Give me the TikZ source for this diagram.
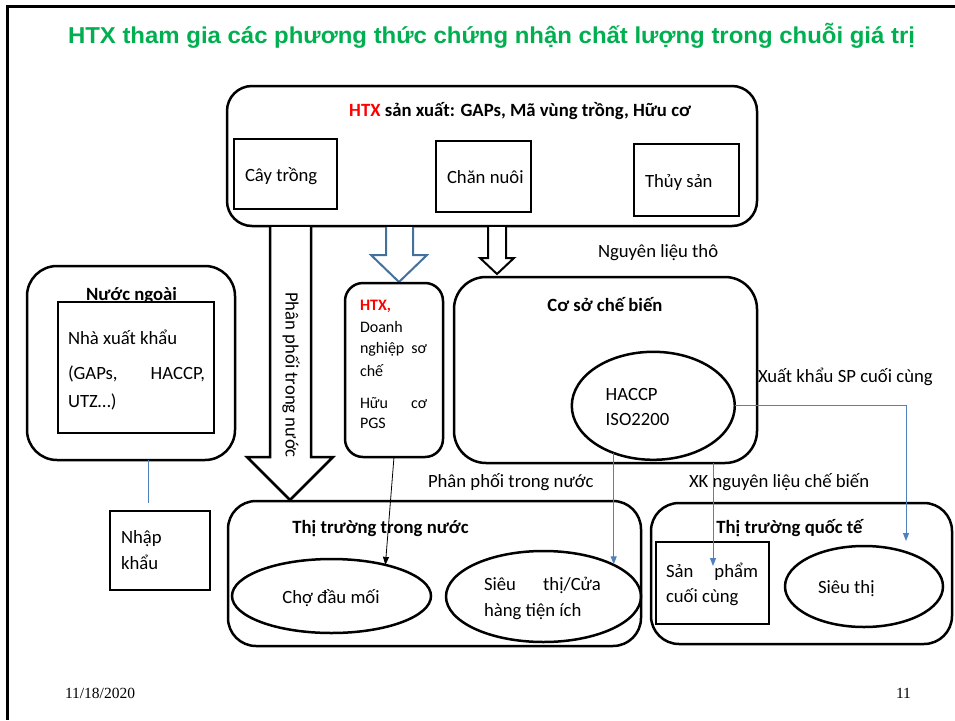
\documentclass[tikz,border=0pt]{standalone}
\usepackage{fontspec}
\usepackage{graphicx}
\setmainfont{Carlito}
\newfontfamily\titlefont{Liberation Sans}
\newfontfamily\footfont{Liberation Serif}
\usetikzlibrary{shapes.geometric,arrows.meta}
\definecolor{titlegreen}{HTML}{00B050}
\definecolor{htxred}{HTML}{FF0000}
\definecolor{linkblue}{HTML}{4F81BD}
\definecolor{arrowblue}{HTML}{41719C}
\newcommand{\bodysize}{\fontsize{18.7}{22}\selectfont}
\newcommand{\smallbodysize}{\fontsize{16}{20}\selectfont}
\begin{document}
\begin{tikzpicture}[x=1pt,y=-1pt,
  every node/.style={inner sep=0pt,outer sep=0pt},
  rbox/.style={draw,line width=2.5pt,rounded corners=#1},
  rbox/.default=25pt,
  sbox/.style={draw,line width=2.5pt,fill=white},
  oval/.style={draw,ellipse,line width=2.5pt},
  lbl/.style={font=\bodysize,anchor=base west},
  slbl/.style={font=\smallbodysize,anchor=base west},
  hdr/.style={font=\bodysize\bfseries,anchor=base},
  link/.style={draw=linkblue,line width=1pt,-{Triangle[length=8pt,width=6pt]}},
  blockarrow/.style={line width=2.5pt,fill=white,line join=miter}
]
\useasboundingbox (0,0) rectangle (955,720);

% slide frame and heading
\draw[line width=3pt] (955,6.5) -- (7,6.5) -- (7,720);
\node[anchor=base,text=titlegreen,font=\titlefont\bfseries\fontsize{23}{28}\selectfont] (title) at (491.5,43.5)
  {\resizebox{847pt}{\height}{HTX tham gia các phương thức chứng nhận chất lượng trong chuỗi giá trị}};

% producers
\node[rbox,minimum width=530pt,minimum height=140pt] (htxsx) at (492,156) {};
\node[hdr] (htxsxt) at (520,116) {\textcolor{htxred}{HTX} sản xuất: GAPs, Mã vùng trồng, Hữu cơ};
\node[sbox,minimum width=103pt,minimum height=70pt] (caytrong) at (285.5,174) {};
\node[lbl] (caytrongt) at (245,181) {Cây trồng};
\node[sbox,minimum width=95pt,minimum height=71pt] (channuoi) at (483.5,176.5) {};
\node[lbl] (channuoit) at (447,183) {Chăn nuôi};
\node[sbox,minimum width=105pt,minimum height=72pt] (thuysan) at (686.5,180) {};
\node[lbl] (thuysant) at (645,187) {Thủy sản};

% block arrows out of the producers box
\draw[blockarrow] (270,227) -- (270,457) -- (247,457) -- (290,500) -- (333,457) -- (311,457) -- (311,227);
\node[lbl,anchor=center,rotate=-90] (ppdoc) at (291,375) {Phân phối trong nước};
\draw[blockarrow,draw=arrowblue,line width=2pt] (386,227) -- (386,255) -- (371,255) -- (399,282) -- (427,255) -- (413,255) -- (413,227);
\draw[blockarrow,line width=2pt] (488,227) -- (488,258) -- (480,258) -- (497,274) -- (514,258) -- (506,258) -- (506,227);
\node[lbl] (nlt) at (598,257) {Nguyên liệu thô};

% foreign side
\node[rbox=30pt,minimum width=208pt,minimum height=194pt] (nuocngoai) at (131,363) {};
\node[hdr] (nuocngoait) at (131.5,300) {Nước ngoài};
\node[sbox,minimum width=156pt,minimum height=131pt] (nxk) at (136,367.5) {};
\node[lbl] (nxk1) at (68,344) {Nhà xuất khẩu};
\node[lbl] (nxk2) at (68,379) {\hbox to 137pt{(GAPs,\hfill HACCP,}};
\node[lbl] (nxk3) at (68,407) {UTZ…)};
\node[sbox,minimum width=100pt,minimum height=79pt] (nhapkhau) at (160,550.5) {};
\node[lbl] (nk1) at (121,543) {Nhập};
\node[lbl] (nk2) at (121,569) {khẩu};
\coordinate (nkTop) at (148,503);
\draw[linkblue,line width=1pt] (nuocngoai.south -| nkTop) -- (nkTop);

% pre-processing cooperative
\node[rbox=18pt,minimum width=98pt,minimum height=174pt] (htxsc) at (394,370) {};
\node[slbl,text=htxred,font=\smallbodysize\bfseries] (sc1) at (360,310) {HTX,};
\node[slbl] (sc2) at (360,332) {Doanh};
\node[slbl] (sc3) at (360,353.5) {\hbox to 67pt{nghiệp\hfill sơ}};
\node[slbl] (sc4) at (360,376) {chế};
\node[slbl] (sc5) at (360,408) {\hbox to 67pt{Hữu\hfill cơ}};
\node[slbl] (sc6) at (360,428) {PGS};

% processing plant
\node[rbox=32pt,minimum width=303pt,minimum height=186pt] (chebien) at (605.5,370) {};
\node[hdr] (chebient) at (605,311) {Cơ sở chế biến};
\node[oval,minimum width=163pt,minimum height=108pt] (haccp) at (653.3,405.8) {};
\node[lbl] (haccp1) at (605.7,400) {HACCP};
\node[lbl] (haccp2) at (605.7,425) {ISO2200};
\node[lbl] (xkspt) at (758,382) {Xuất khẩu SP cuối cùng};
\node[lbl] (ppdoc2) at (428,487) {Phân phối trong nước};
\node[lbl] (xknlt) at (689,487) {XK nguyên liệu chế biến};

% domestic market
\node[rbox=28pt,minimum width=413pt,minimum height=145pt] (ttdoc) at (434.5,573.5) {};
\node[hdr] (ttdoct) at (380.5,533) {Thị trường trong nước};
\node[oval,minimum width=199pt,minimum height=74pt] (cho) at (331.5,596) {};
\node[lbl,anchor=base] (chot) at (331,603) {Chợ đầu mối};
\node[oval,minimum width=195pt,minimum height=91pt] (sieucua) at (543.5,596.5) {};
\node[lbl] (sc1t) at (484,590) {\hbox to 117pt{Siêu\hfill thị/Cửa}};
\node[lbl] (sc2t) at (484,616) {hàng tiện ích};

% international market
\node[rbox=28pt,minimum width=301pt,minimum height=141pt] (ttqt) at (801.5,573.5) {};
\node[hdr] (ttqtt) at (789.5,533) {Thị trường quốc tế};
\node[sbox,minimum width=113pt,minimum height=82pt] (sanpham) at (712.5,583) {};
\node[lbl] (sp1) at (666,577) {\hbox to 92pt{Sản\hfill phẩm}};
\node[lbl] (sp2) at (666,602) {cuối cùng};
\node[oval,minimum width=158pt,minimum height=81pt] (sieuthi) at (864,586.5) {};
\node[lbl] (sieuthit) at (818,593) {Siêu thị};

% flows
\draw[line width=0.8pt,-{Triangle[length=8pt,width=6pt]}] (htxsc.south) -- (cho.30);
\draw[link] (haccp.230) -- (haccp.230 |- sieucua.25);
\coordinate (spIn) at (713,566);
\draw[link] (chebien.south -| spIn) -- (spIn);
\coordinate (qtIn) at (906,541);
\draw[link] (haccp.east) -| (qtIn);

% footer
\node[anchor=base west,font=\footfont\fontsize{15.5}{18}\selectfont] (date) at (65,698) {11/18/2020};
\node[anchor=base west,font=\footfont\fontsize{15.5}{18}\selectfont] (pageno) at (896,698) {11};
\end{tikzpicture}
\end{document}
